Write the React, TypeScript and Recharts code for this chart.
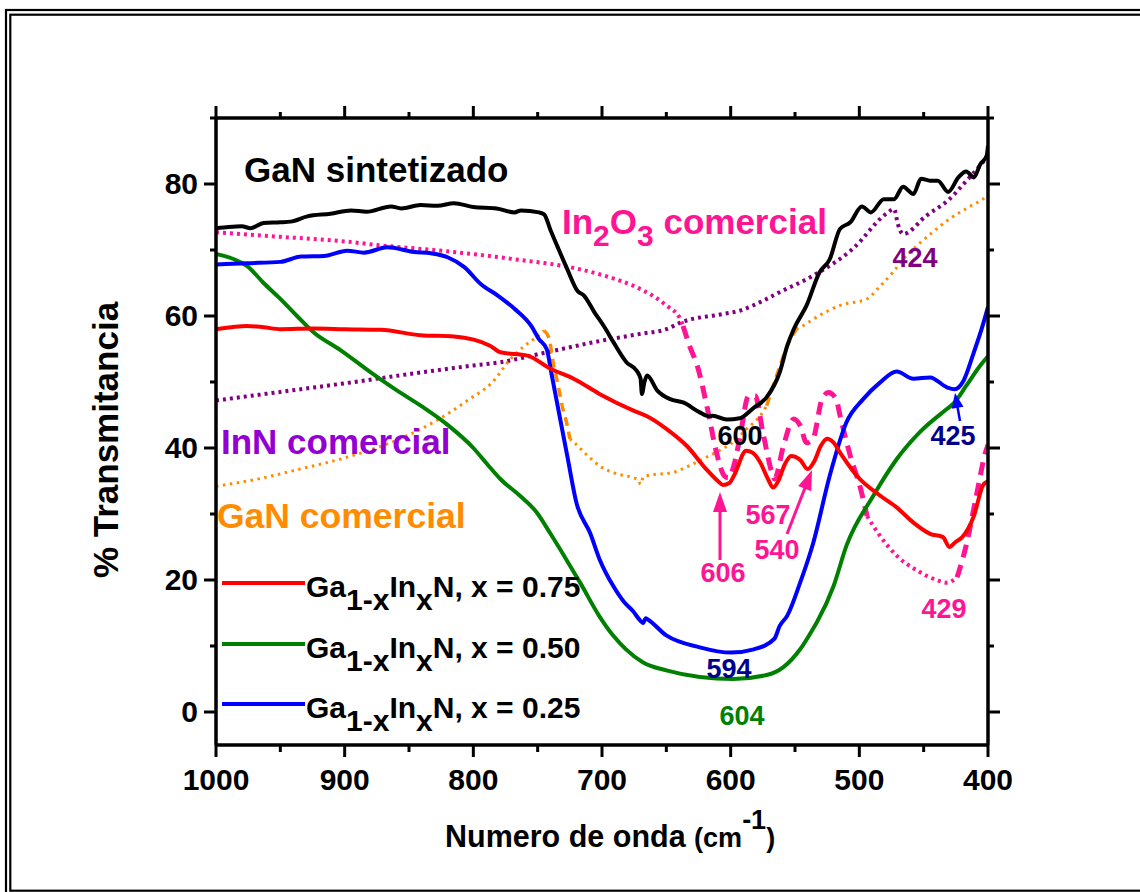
import React from 'react';
import { LineChart, Line, XAxis, YAxis } from 'recharts';

const FONT = '"Liberation Sans", Arial, Helvetica, sans-serif';

// x ticks (wavenumber, cm-1) and y ticks (% transmittance)
const xTicks = [1000, 950, 900, 850, 800, 750, 700, 650, 600, 550, 500, 450, 400];
const yTicks = [0, 10, 20, 30, 40, 50, 60, 70, 80, 90];

// GaN sintetizado (black)
const ganSintetizado: [number, number][] = [
  [1000, 73.3], [990, 73.5], [980, 73.6], [973, 73.3], [963, 74.1], [950, 74.2], [942, 74.3], [929, 75.1],
  [911, 75.5], [895, 76], [883, 75.8], [864, 76.6], [856, 76.3], [841, 76.8], [828, 76.7], [815, 77.1],
  [800, 76.5], [782, 76.3], [768, 75.7], [763, 76], [749, 75.7], [745, 75.4], [740, 73], [735, 70.7],
  [727, 67.1], [719, 63.8], [714, 63.1], [706, 60.6], [698, 58.3], [691, 56], [681, 53], [673, 51.7],
  [670, 50.5], [669, 48.2], [667, 50], [665, 51], [657, 48.7], [647, 47.4], [637, 46.9], [624, 45.4],
  [617, 44.8], [614, 44.9], [603, 44.3], [593, 44.5], [582, 46.1], [572, 47.7], [562, 51.4], [556, 55.5],
  [551, 58], [541, 61.6], [531, 66.6], [523, 68.6], [515, 73.2], [507, 74.2], [498, 76.6], [491, 75.7],
  [481, 77.7], [473, 77.7], [466, 79.6], [458, 78.5], [452, 80.8], [445, 80.5], [439, 80.5], [431, 78.8],
  [423, 81], [417, 81.9], [411, 81], [406, 83], [401, 84.3], [400, 85.8],
];

// In2O3 comercial (pink) — dotted and dashed portions
const in2o3DottedA: [number, number][] = [
  [1000, 72.7], [950, 72], [900, 71.3], [872, 70.7], [820, 69.8], [768, 68.6], [720, 67.2], [698, 66.1],
  [676, 64.6], [660, 63], [650, 61.6], [639, 59.5], [637, 58.5],
];
const in2o3DashedB: [number, number][] = [
  [637, 58.5], [632, 55.5], [626, 52.5], [618, 45.9], [611, 39.3], [605, 35.8], [602, 35.5], [598, 37],
  [593, 41.4], [586, 47.9], [581, 47.9], [575, 42.4], [568, 36.3], [566, 35.3], [559, 40.3], [551, 44.4],
  [546, 43.4], [541, 40.8], [536, 41.4], [529, 47.4], [524, 48.4], [518, 47.4], [515, 44.9], [507, 38.8],
  [499, 33.8], [494, 29.7],
];
const in2o3DottedC: [number, number][] = [
  [494, 29.7], [484, 26.7], [471, 23.7], [453, 21.2], [440, 20], [432, 19.6], [424, 20.4],
];
const in2o3DashedD: [number, number][] = [
  [424, 20.4], [417, 25.2], [409, 32.8], [402, 39.3], [400, 40.5],
];

// InN comercial (purple dotted)
const innComercial: [number, number][] = [
  [1000, 47.2], [950, 48.5], [900, 49.8], [850, 51.2], [800, 52.5], [779, 53], [743, 54.5], [702, 56.2],
  [670, 57.3], [650, 58], [639, 59], [606, 60.3], [593, 60.8], [575, 62.3], [562, 63.6], [536, 66.1],
  [505, 70.2], [479, 75.5], [473, 76.2], [470, 73.9], [466, 72.4], [448, 75.2], [430, 77.7], [419, 80],
  [404, 83.3], [400, 84.3],
];

// GaN comercial (orange) — dotted and dashed portions
const ganComDottedA: [number, number][] = [
  [1000, 34.2], [970, 35.2], [935, 36.8], [900, 38.5], [857, 41.4], [830, 44], [803, 47.4], [785, 50],
  [771, 53.5], [760, 55.5], [751, 56.8], [745, 57.8],
];
const ganComDashedB: [number, number][] = [
  [745, 57.8], [741, 56.5], [738, 53], [734, 49.4], [731, 46.4], [727, 43.4], [725, 41.4],
];
const ganComDottedC: [number, number][] = [
  [725, 41.4], [722, 40.9], [712, 39], [702, 37.3], [690, 36.2], [676, 35.5], [672, 35.2], [670, 34.5],
  [668, 35.6], [665, 35.8], [645, 36.3], [624, 38.1], [610, 39.5], [598, 40.9], [588, 42.8], [577, 44.9],
  [572, 46.4],
];
const ganComDashedD: [number, number][] = [
  [572, 46.4], [567, 49.4], [561, 52.8], [556, 55.5], [549, 58],
];
const ganComDottedE: [number, number][] = [
  [549, 58], [546, 58.3], [530, 60.2], [515, 61.6], [494, 62.6], [484, 64.5], [474, 66.6], [465, 68.8],
  [455, 70.7], [443, 72.7], [430, 74.7], [415, 76.5], [401, 78.2], [400, 78.4],
];

// Ga1-xInxN, x = 0.75 (red)
const x075: [number, number][] = [
  [1000, 58], [988, 58.3], [976, 58.5], [963, 58.3], [950, 58], [924, 58.1], [900, 58], [872, 57.9],
  [841, 57.1], [815, 56.9], [787, 55.5], [779, 54.5], [758, 54], [740, 52], [722, 50.5], [702, 48.2],
  [676, 45.7], [665, 44.8], [650, 42.9], [634, 40.3], [619, 36.8], [610, 35], [606, 34.4], [601, 34.7],
  [597, 36], [588, 39.6], [583, 39.3], [577, 37.8], [571, 35.3], [567, 34], [563, 35], [558, 37.5],
  [553, 38.8], [546, 38.2], [540, 36.8], [535, 38], [530, 40.3], [525, 41.4], [520, 40.8], [515, 39.3],
  [502, 35.8], [484, 32.8], [471, 31], [458, 28.7], [445, 27], [435, 26.5], [430, 25], [425, 25.8],
  [420, 26.5], [411, 29.7], [404, 34.3], [400, 35],
];

// Ga1-xInxN, x = 0.50 (green)
const x050: [number, number][] = [
  [1000, 69.4], [986, 68.6], [976, 67.6], [963, 65], [950, 62.6], [937, 60], [924, 57.5], [903, 54.8],
  [880, 51.5], [860, 48.8], [840, 46.3], [820, 43.5], [800, 40], [789, 37.5], [779, 35.3], [764, 32.8],
  [751, 30.3], [740, 27], [733, 24.8], [725, 22.2], [717, 19.6], [702, 14.5], [691, 11.5], [682, 9.6],
  [668, 7.5], [650, 6.3], [624, 5.3], [598, 5], [572, 5.6], [559, 6.8], [546, 9.5], [536, 12.6],
  [533, 13.6], [520, 19.1], [510, 25.2], [489, 32.8], [471, 38.3], [453, 42.4], [432, 45.9], [427, 46.7],
  [417, 49.4], [406, 52.5], [400, 53.9],
];

// Ga1-xInxN, x = 0.25 (blue)
const x025: [number, number][] = [
  [1000, 67.8], [976, 68], [950, 68.2], [934, 69], [916, 69.1], [898, 69.9], [885, 69.6], [867, 70.4],
  [846, 69.7], [833, 69.5], [820, 68.9], [807, 67.4], [794, 64.8], [781, 63.1], [768, 61.1], [755, 58.5],
  [749, 56.5], [743, 55], [739, 51], [735, 46.9], [727, 38.8], [720, 31.8], [709, 27], [702, 23.2],
  [691, 19], [683, 16.7], [676, 15.3], [670, 13.8], [668, 13.5], [666, 14.2], [665, 14.1], [650, 11.6],
  [624, 9.8], [600, 9], [582, 9.5], [566, 11.1], [562, 13], [556, 14.6], [546, 19.6], [536, 25.5],
  [523, 35.8], [510, 43.9], [497, 47.4], [484, 49.9], [471, 51.6], [458, 50.5], [445, 50.7], [432, 49.2],
  [426, 48.9], [419, 50.2], [411, 54.5], [405, 58], [400, 61.4],
];

const legendLabels = ['0.75', '0.50', '0.25'];

const toPts = (a: [number, number][]) => a.map(([x, y]) => ({ x, y }));

const C = {
  black: '#000000',
  pink: '#FF1493',
  purple: '#800080',
  violet: '#9400D3',
  orange: '#FF8C00',
  red: '#FF0000',
  green: '#008000',
  blue: '#0000FF',
  navy: '#00008B',
};

const tickText = { fontFamily: FONT, fontWeight: 'bold' as const, fontSize: 30, fill: '#000' };

function XTickBottom(props: any) {
  const { x, y, payload } = props;
  const v = payload.value;
  const major = v % 100 === 0;
  return (
    <g>
      <line x1={x} x2={x} y1={y} y2={y + (major ? 12 : 7)} stroke="#000" strokeWidth={3} />
      {major && (
        <text x={x} y={y + 45} textAnchor="middle" {...tickText}>{v}</text>
      )}
    </g>
  );
}
function XTickTop(props: any) {
  const { x, y, payload } = props;
  const major = payload.value % 100 === 0;
  return <line x1={x} x2={x} y1={y} y2={y - (major ? 12 : 6)} stroke="#000" strokeWidth={3} />;
}
function YTickLeft(props: any) {
  const { x, y, payload } = props;
  const v = payload.value;
  const major = v % 20 === 0;
  return (
    <g>
      <line x1={x} x2={x - (major ? 12 : 6)} y1={y} y2={y} stroke="#000" strokeWidth={3} />
      {major && (
        <text x={x - 18} y={y + 10} textAnchor="end" {...tickText}>{v}</text>
      )}
    </g>
  );
}
function YTickRight(props: any) {
  const { x, y, payload } = props;
  const major = payload.value % 20 === 0;
  return <line x1={x} x2={x + (major ? 12 : 6)} y1={y} y2={y} stroke="#000" strokeWidth={3} />;
}

function Arrow({ x1, y1, x2, y2, color, head = 20, half = 7, w = 3 }: any) {
  const dx = x2 - x1, dy = y2 - y1;
  const L = Math.hypot(dx, dy);
  const ux = dx / L, uy = dy / L;
  const bx = x2 - ux * head, by = y2 - uy * head;
  const px = -uy, py = ux;
  return (
    <g>
      <line x1={x1} y1={y1} x2={bx + ux * 2} y2={by + uy * 2} stroke={color} strokeWidth={w} />
      <polygon points={`${x2},${y2} ${bx + px * half},${by + py * half} ${bx - px * half},${by - py * half}`} fill={color} />
    </g>
  );
}

const lbl = { fontFamily: FONT, fontWeight: 'bold' as const };

function Overlay() {
  const legendColors = [C.red, C.green, C.blue];
  const legendY = [583, 644, 704];
  return (
    <svg width={1140} height={892} style={{ position: 'absolute', left: 0, top: 0, pointerEvents: 'none' }}>
      {/* double frame */}
      <rect x={6} y={10} width={1140} height={892} fill="none" stroke="#000" strokeWidth={2.2} />
      <rect x={10.3} y={14.7} width={1140} height={876} fill="none" stroke="#000" strokeWidth={2.2} />

      {/* series labels */}
      <text x={244} y={182} fontSize={35} fill={C.black} {...lbl}>GaN sintetizado</text>
      <text x={562} y={234} fontSize={35} fill={C.pink} {...lbl}>
        In<tspan dy={12} fontSize={30}>2</tspan><tspan dy={-12} fontSize={35}>O</tspan><tspan dy={12} fontSize={30}>3</tspan><tspan dy={-12} fontSize={35}> comercial</tspan>
      </text>
      <text x={221} y={454} fontSize={35} fill={C.violet} {...lbl}>InN comercial</text>
      <text x={217} y={528} fontSize={35.5} fill={C.orange} {...lbl}>GaN comercial</text>

      {/* peak labels */}
      <text x={740} y={445} fontSize={27} textAnchor="middle" fill={C.black} {...lbl}>600</text>
      <text x={915} y={267} fontSize={27} textAnchor="middle" fill={C.purple} {...lbl}>424</text>
      <text x={953} y={445} fontSize={27} textAnchor="middle" fill={C.navy} {...lbl}>425</text>
      <text x={723} y={582} fontSize={27} textAnchor="middle" fill={C.pink} {...lbl}>606</text>
      <text x={768} y={524} fontSize={27} textAnchor="middle" fill={C.pink} {...lbl}>567</text>
      <text x={777} y={559} fontSize={27} textAnchor="middle" fill={C.pink} {...lbl}>540</text>
      <text x={944} y={618} fontSize={27} textAnchor="middle" fill={C.pink} {...lbl}>429</text>
      <text x={729} y={678} fontSize={27} textAnchor="middle" fill={C.navy} {...lbl}>594</text>
      <text x={742} y={725} fontSize={27} textAnchor="middle" fill={C.green} {...lbl}>604</text>

      {/* arrows */}
      <Arrow x1={720} y1={560} x2={720} y2={492} color={C.pink} />
      <Arrow x1={787} y1={534} x2={812} y2={470} color={C.pink} />
      <Arrow x1={960} y1={421} x2={955} y2={393} color={C.blue} head={15} half={6} w={2.5} />

      {/* legend */}
      {legendLabels.map((v, i) => (
        <g key={v}>
          <line x1={222} x2={305} y1={legendY[i]} y2={legendY[i]} stroke={legendColors[i]} strokeWidth={4} />
          <text x={306} y={legendY[i] + 14} fontSize={30} fill="#000" {...lbl}>
            Ga<tspan dy={13}>1-x</tspan><tspan dy={-13}>In</tspan><tspan dy={13}>x</tspan><tspan dy={-13}>N, x = {v}</tspan>
          </text>
        </g>
      ))}

      {/* axis titles */}
      <text transform="translate(118,440) rotate(-90)" textAnchor="middle" fontSize={35} fill="#000" {...lbl}>% Transmitancia</text>
      <text x={445} y={847} fontSize={30.5} fill="#000" {...lbl}>
        Numero de onda <tspan fontSize={27}>(cm</tspan><tspan dy={-18} fontSize={27}>-1</tspan><tspan dy={18} fontSize={27}>)</tspan>
      </text>
    </svg>
  );
}

type Seg = { data: [number, number][]; color: string; width: number; dash?: string };

const segments: Seg[] = [
  { data: innComercial, color: C.purple, width: 4, dash: '3 4' },
  { data: ganComDottedA, color: C.orange, width: 3, dash: '2.5 4.5' },
  { data: ganComDashedB, color: C.orange, width: 3.5, dash: '9 6' },
  { data: ganComDottedC, color: C.orange, width: 3, dash: '2.5 4.5' },
  { data: ganComDashedD, color: C.orange, width: 3.5, dash: '9 6' },
  { data: ganComDottedE, color: C.orange, width: 3, dash: '2.5 4.5' },
  { data: in2o3DottedA, color: C.pink, width: 4, dash: '3 4' },
  { data: in2o3DashedB, color: C.pink, width: 5, dash: '13 8' },
  { data: in2o3DottedC, color: C.pink, width: 4, dash: '3 4' },
  { data: in2o3DashedD, color: C.pink, width: 5, dash: '13 8' },
  { data: x050, color: C.green, width: 4 },
  { data: x025, color: C.blue, width: 4 },
  { data: x075, color: C.red, width: 4 },
  { data: ganSintetizado, color: C.black, width: 4 },
];

export default function App() {
  return (
    <div style={{ position: 'absolute', left: 0, top: 0, width: 1140, height: 892, background: '#fff', overflow: 'hidden' }}>
      <LineChart width={1140} height={892} margin={{ top: 98, right: 132, bottom: 117, left: 156 }}>
        <XAxis
          xAxisId="b" dataKey="x" type="number" domain={[400, 1000]} reversed allowDataOverflow
          ticks={xTicks} interval={0} tickSize={0} tickMargin={0} tickLine={false} height={30}
          axisLine={{ stroke: '#000', strokeWidth: 3.5 }} tick={(p: any) => <XTickBottom {...p} />}
        />
        <XAxis
          xAxisId="t" orientation="top" dataKey="x" type="number" domain={[400, 1000]} reversed allowDataOverflow
          ticks={xTicks} interval={0} tickSize={0} tickMargin={0} tickLine={false} height={20}
          axisLine={{ stroke: '#000', strokeWidth: 3.5 }} tick={(p: any) => <XTickTop {...p} />}
        />
        <YAxis
          yAxisId="l" type="number" domain={[-5, 90]} allowDataOverflow ticks={yTicks} interval={0}
          tickSize={0} tickMargin={0} tickLine={false} width={60}
          axisLine={{ stroke: '#000', strokeWidth: 3.5 }} tick={(p: any) => <YTickLeft {...p} />}
        />
        <YAxis
          yAxisId="r" orientation="right" type="number" domain={[-5, 90]} allowDataOverflow ticks={yTicks} interval={0}
          tickSize={0} tickMargin={0} tickLine={false} width={20}
          axisLine={{ stroke: '#000', strokeWidth: 3.5 }} tick={(p: any) => <YTickRight {...p} />}
        />
        {segments.map((s, i) => (
          <Line
            key={i}
            xAxisId="b"
            yAxisId="l"
            data={toPts(s.data)}
            dataKey="y"
            type="monotone"
            stroke={s.color}
            strokeWidth={s.width}
            strokeDasharray={s.dash}
            strokeLinejoin="round"
            dot={false}
            activeDot={false}
            isAnimationActive={false}
            legendType="none"
          />
        ))}
      </LineChart>
      <Overlay />
    </div>
  );
}
